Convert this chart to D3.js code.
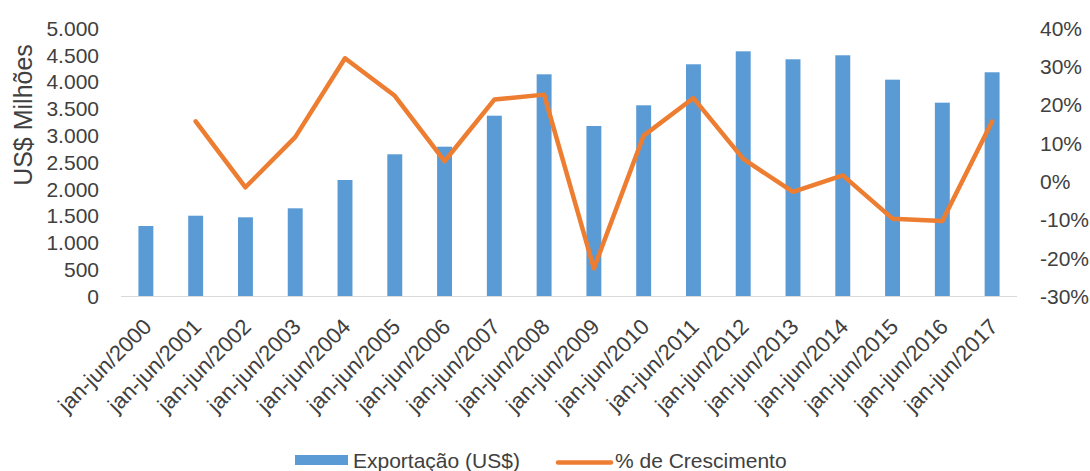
<!DOCTYPE html>
<html>
<head>
<meta charset="utf-8">
<script src="https://cdn.jsdelivr.net/npm/d3@7"></script>
<style>
  body { margin: 0; background: #fff; }
  #chart text { font-family: 'Liberation Sans', Arial, sans-serif; fill: #404040; }
</style>
</head>
<body>
<div id="chart"></div>
<script>
const categories = ['jan-jun/2000', 'jan-jun/2001', 'jan-jun/2002', 'jan-jun/2003', 'jan-jun/2004',
  'jan-jun/2005', 'jan-jun/2006', 'jan-jun/2007', 'jan-jun/2008', 'jan-jun/2009', 'jan-jun/2010',
  'jan-jun/2011', 'jan-jun/2012', 'jan-jun/2013', 'jan-jun/2014', 'jan-jun/2015', 'jan-jun/2016',
  'jan-jun/2017'];
const exportValues = [1306, 1498, 1468, 1636, 2164, 2644, 2786, 3364, 4136, 3172, 3558, 4323, 4565,
  4416, 4491, 4036, 3607, 4174];
const growthValues = [null, 0.156, -0.016, 0.115, 0.321, 0.223, 0.052, 0.213, 0.226, -0.228, 0.119,
  0.217, 0.058, -0.028, 0.015, -0.098, -0.104, 0.156];
const leftTicks = [0, 500, 1000, 1500, 2000, 2500, 3000, 3500, 4000, 4500, 5000];
const rightTicks = [-0.3, -0.2, -0.1, 0, 0.1, 0.2, 0.3, 0.4];
const seriesNames = ['Exportação (US$)', '% de Crescimento'];

const width = 1090;
const height = 471;
const plot = { left: 121, right: 1017, top: 28, bottom: 296 };
const blue = '#5b9bd5';
const orange = '#ed7d31';

const locale = d3.formatLocale({ decimal: ',', thousands: '.', grouping: [3], currency: ['R$', ''], minus: '-' });
const fmtLeft = locale.format(',d');
const fmtRight = locale.format('.0%');

const svg = d3.select('#chart')
  .append('svg')
  .attr('width', width)
  .attr('height', height);

const xScale = d3.scaleBand()
  .domain(categories)
  .range([plot.left, plot.right])
  .paddingInner(0.7)
  .paddingOuter(0.35);

const yLeft = d3.scaleLinear().domain([0, 5000]).range([plot.bottom, plot.top]);
const yRight = d3.scaleLinear().domain([-0.3, 0.4]).range([plot.bottom, plot.top]);

// left axis
const leftAxis = svg.append('g')
  .attr('transform', `translate(${plot.left - 22},0)`)
  .call(d3.axisLeft(yLeft).tickValues(leftTicks).tickFormat(fmtLeft).tickSize(0).tickPadding(0));
leftAxis.select('.domain').remove();
leftAxis.selectAll('text').style('font-size', '21px').attr('dy', '0.35em');

// right axis
const rightAxis = svg.append('g')
  .attr('transform', `translate(${plot.right + 23},0)`)
  .call(d3.axisRight(yRight).tickValues(rightTicks).tickFormat(fmtRight).tickSize(0).tickPadding(0));
rightAxis.select('.domain').remove();
rightAxis.selectAll('text').style('font-size', '21px').attr('dy', '0.35em');

// baseline
svg.append('line')
  .attr('x1', plot.left)
  .attr('x2', plot.right)
  .attr('y1', plot.bottom + 0.5)
  .attr('y2', plot.bottom + 0.5)
  .attr('stroke', '#d9d9d9')
  .attr('stroke-width', 1);

// bars
svg.selectAll('rect.bar')
  .data(categories)
  .enter()
  .append('rect')
  .attr('class', 'bar')
  .attr('x', (d) => xScale(d))
  .attr('y', (d, i) => yLeft(exportValues[i]))
  .attr('width', xScale.bandwidth())
  .attr('height', (d, i) => yLeft(0) - yLeft(exportValues[i]))
  .attr('fill', blue);

// growth line
const line = d3.line()
  .defined((d) => d.v !== null)
  .x((d) => xScale(d.c) + xScale.bandwidth() / 2)
  .y((d) => yRight(d.v));

svg.append('path')
  .datum(categories.map((c, i) => ({ c, v: growthValues[i] })))
  .attr('fill', 'none')
  .attr('stroke', orange)
  .attr('stroke-width', 4.5)
  .attr('stroke-linejoin', 'round')
  .attr('stroke-linecap', 'round')
  .attr('d', line);

// x labels
svg.selectAll('text.xlab')
  .data(categories)
  .enter()
  .append('text')
  .attr('class', 'xlab')
  .attr('transform', (d) => `translate(${xScale(d) + xScale.bandwidth() / 2 + 7},${plot.bottom + 32}) rotate(-45)`)
  .attr('text-anchor', 'end')
  .style('font-size', '22px')
  .text((d) => d);

// y title
svg.append('text')
  .attr('transform', 'translate(32,115) rotate(-90)')
  .attr('text-anchor', 'middle')
  .style('font-size', '25px')
  .text('US$ Milhões');

// legend
const legend = svg.append('g');
legend.append('rect')
  .attr('x', 295)
  .attr('y', 455)
  .attr('width', 53)
  .attr('height', 10)
  .attr('fill', blue);
legend.append('text')
  .attr('x', 353)
  .attr('y', 468)
  .style('font-size', '21px')
  .text(seriesNames[0]);
legend.append('line')
  .attr('x1', 558)
  .attr('x2', 611)
  .attr('y1', 462.5)
  .attr('y2', 462.5)
  .attr('stroke', orange)
  .attr('stroke-width', 4.5)
  .attr('stroke-linecap', 'round');
legend.append('text')
  .attr('x', 615)
  .attr('y', 468)
  .style('font-size', '21px')
  .text(seriesNames[1]);
</script>
</body>
</html>
